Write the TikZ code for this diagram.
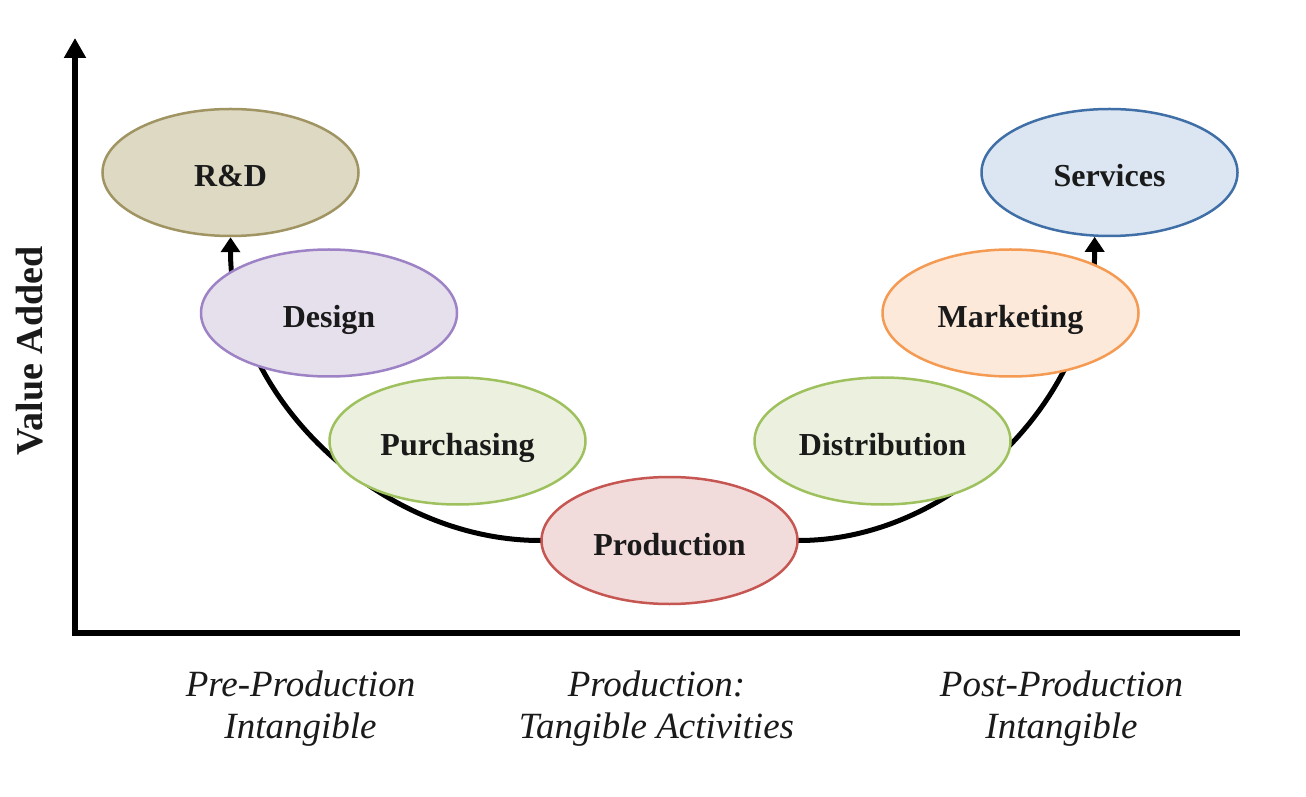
\documentclass[tikz,border=0pt]{standalone}
\usepackage{fontspec}
\setmainfont{Liberation Serif}
\usetikzlibrary{arrows.meta,shapes.geometric}
\pgfdeclarelayer{bg}
\pgfdeclarelayer{paper}
\pgfsetlayers{paper,bg,main}
\definecolor{rdfill}{HTML}{DDD9C3}
\definecolor{rddraw}{HTML}{A09463}
\definecolor{dsfill}{HTML}{E6E0EC}
\definecolor{dsdraw}{HTML}{9D83C5}
\definecolor{grfill}{HTML}{EBF1DE}
\definecolor{grdraw}{HTML}{9EC15E}
\definecolor{prfill}{HTML}{F2DCDB}
\definecolor{prdraw}{HTML}{C65652}
\definecolor{mkfill}{HTML}{FDE9D9}
\definecolor{mkdraw}{HTML}{F59A52}
\definecolor{svfill}{HTML}{DCE6F2}
\definecolor{svdraw}{HTML}{3F6FA6}
\definecolor{txt}{HTML}{1A1A1A}
\begin{document}
\begin{tikzpicture}[x=1pt,y=1pt,
  stage/.style={ellipse, draw, line width=2.5pt, minimum width=256pt, minimum height=127pt,
    inner sep=0pt, text height=29pt, text depth=0pt, text=txt,
    font={\fontsize{32}{36}\selectfont\bfseries}},
  axisline/.style={line width=5.5pt, line cap=rect, {Triangle[width=21pt,length=20pt]}-},
  chain/.style={line width=5pt, -{Triangle[width=19pt,length=15pt]}},
  phase/.style={align=center, text=txt, font={\fontsize{37}{42}\selectfont\itshape}},
  ylab/.style={rotate=90, text=txt, font={\fontsize{38}{42}\selectfont\bfseries}}
]
\useasboundingbox (0,0) rectangle (1306,796);
\begin{pgfonlayer}{paper}
\fill[white] (0,0) rectangle (1306,796);
\end{pgfonlayer}

% axes
\coordinate (ytop) at (75,758);
\coordinate (origin) at (75,163);
\coordinate (xend) at (1237,163);
\draw[axisline] (ytop) -- (origin) -- (xend);

\node[ylab] (yl) at (30,445) {Value Added};

% stages
\node[stage, fill=rdfill, draw=rddraw] (rd) at (230.5,623.5) {R\&D};
\node[stage, fill=dsfill, draw=dsdraw] (design) at (329,483) {Design};
\node[stage, fill=grfill, draw=grdraw] (purch) at (457.5,355) {Purchasing};
\node[stage, fill=prfill, draw=prdraw] (prod) at (669.5,255.5) {Production};
\node[stage, fill=grfill, draw=grdraw] (dist) at (882.5,355) {Distribution};
\node[stage, fill=mkfill, draw=mkdraw] (mkt) at (1010.5,483) {Marketing};
\node[stage, fill=svfill, draw=svdraw] (serv) at (1109.5,623.5) {Services};

% smile curve
\begin{pgfonlayer}{bg}
\draw[chain] (prod.west) .. controls +(-160,0) and +(0,-160) .. (rd.south);
\draw[chain] (prod.east) .. controls +(155,0) and +(0,-160) .. (serv.257);
\draw[line width=5pt] (prod.west) -- (prod.east);
\end{pgfonlayer}

% phase labels
\node[phase] (pre) at (300.5,87) {Pre-Production\\Intangible};
\node[phase] (mid) at (656.5,87) {Production:\\Tangible Activities};
\node[phase] (post) at (1061.5,87) {Post-Production\\Intangible};
\end{tikzpicture}
\end{document}
